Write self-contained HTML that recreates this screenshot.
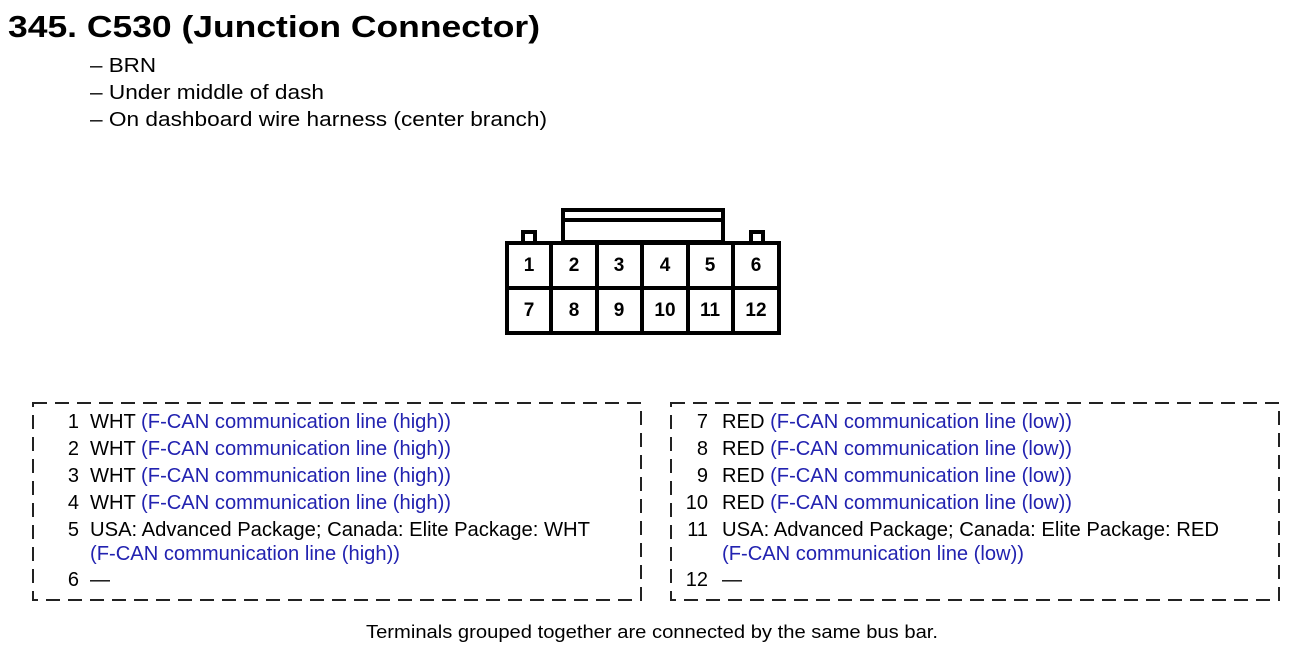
<!DOCTYPE html>
<html><head><meta charset="utf-8"><style>
html,body{margin:0;padding:0;background:#fff;}
svg{display:block;}
text{font-family:"Liberation Sans",Arial,sans-serif;}
.b{fill:#2222b0;}
</style></head><body>
<svg width="1294" height="654" viewBox="0 0 1294 654">
<text x="8" y="37" font-size="31" font-weight="bold" textLength="532" lengthAdjust="spacingAndGlyphs">345. C530 (Junction Connector)</text>
<text x="90" y="72" font-size="20" textLength="66" lengthAdjust="spacingAndGlyphs">– BRN</text>
<text x="90" y="99" font-size="20" textLength="234" lengthAdjust="spacingAndGlyphs">– Under middle of dash</text>
<text x="90" y="126" font-size="20" textLength="457" lengthAdjust="spacingAndGlyphs">– On dashboard wire harness (center branch)</text>

<g fill="none" stroke="#000" stroke-width="4">
<rect x="563" y="210" width="160" height="32"/>
<line x1="563" y1="220" x2="723" y2="220"/>
<polyline points="523,242 523,232 535,232 535,242"/>
<polyline points="751,242 751,232 763,232 763,242"/>
<rect x="507" y="243" width="272" height="90" fill="#fff"/>
<line x1="507" y1="288" x2="779" y2="288"/>
<line x1="551" y1="243" x2="551" y2="333"/>
<line x1="597" y1="243" x2="597" y2="333"/>
<line x1="642" y1="243" x2="642" y2="333"/>
<line x1="688" y1="243" x2="688" y2="333"/>
<line x1="733" y1="243" x2="733" y2="333"/>
</g>
<g font-size="19" font-weight="bold" text-anchor="middle">
<text x="529" y="271">1</text><text x="574" y="271">2</text><text x="619" y="271">3</text><text x="665" y="271">4</text><text x="710" y="271">5</text><text x="756" y="271">6</text>
<text x="529" y="316">7</text><text x="574" y="316">8</text><text x="619" y="316">9</text><text x="665" y="316">10</text><text x="710" y="316">11</text><text x="756" y="316">12</text>
</g>

<g fill="none" stroke="#222" stroke-width="2" stroke-dasharray="14,8">
<rect x="33" y="403" width="608" height="197"/>
<rect x="671" y="403" width="608" height="197"/>
</g>

<g font-size="20">
<g text-anchor="end">
<text x="79" y="428">1</text><text x="79" y="455">2</text><text x="79" y="482">3</text><text x="79" y="509">4</text><text x="79" y="536">5</text><text x="79" y="586">6</text>
<text x="708" y="428">7</text><text x="708" y="455">8</text><text x="708" y="482">9</text><text x="708" y="509">10</text><text x="708" y="536">11</text><text x="708" y="586">12</text>
</g>
<text x="90" y="428" textLength="361" lengthAdjust="spacingAndGlyphs">WHT <tspan class="b">(F-CAN communication line (high))</tspan></text>
<text x="90" y="455" textLength="361" lengthAdjust="spacingAndGlyphs">WHT <tspan class="b">(F-CAN communication line (high))</tspan></text>
<text x="90" y="482" textLength="361" lengthAdjust="spacingAndGlyphs">WHT <tspan class="b">(F-CAN communication line (high))</tspan></text>
<text x="90" y="509" textLength="361" lengthAdjust="spacingAndGlyphs">WHT <tspan class="b">(F-CAN communication line (high))</tspan></text>
<text x="90" y="536" textLength="500" lengthAdjust="spacingAndGlyphs">USA: Advanced Package; Canada: Elite Package: WHT</text>
<text x="90" y="560" class="b" textLength="310" lengthAdjust="spacingAndGlyphs">(F-CAN communication line (high))</text>
<text x="90" y="586">—</text>
<text x="722" y="428" textLength="350" lengthAdjust="spacingAndGlyphs">RED <tspan class="b">(F-CAN communication line (low))</tspan></text>
<text x="722" y="455" textLength="350" lengthAdjust="spacingAndGlyphs">RED <tspan class="b">(F-CAN communication line (low))</tspan></text>
<text x="722" y="482" textLength="350" lengthAdjust="spacingAndGlyphs">RED <tspan class="b">(F-CAN communication line (low))</tspan></text>
<text x="722" y="509" textLength="350" lengthAdjust="spacingAndGlyphs">RED <tspan class="b">(F-CAN communication line (low))</tspan></text>
<text x="722" y="536" textLength="497" lengthAdjust="spacingAndGlyphs">USA: Advanced Package; Canada: Elite Package: RED</text>
<text x="722" y="560" class="b" textLength="302" lengthAdjust="spacingAndGlyphs">(F-CAN communication line (low))</text>
<text x="722" y="586">—</text>
</g>
<text x="652" y="638" font-size="18" text-anchor="middle" textLength="572" lengthAdjust="spacingAndGlyphs">Terminals grouped together are connected by the same bus bar.</text>
</svg>
</body></html>
